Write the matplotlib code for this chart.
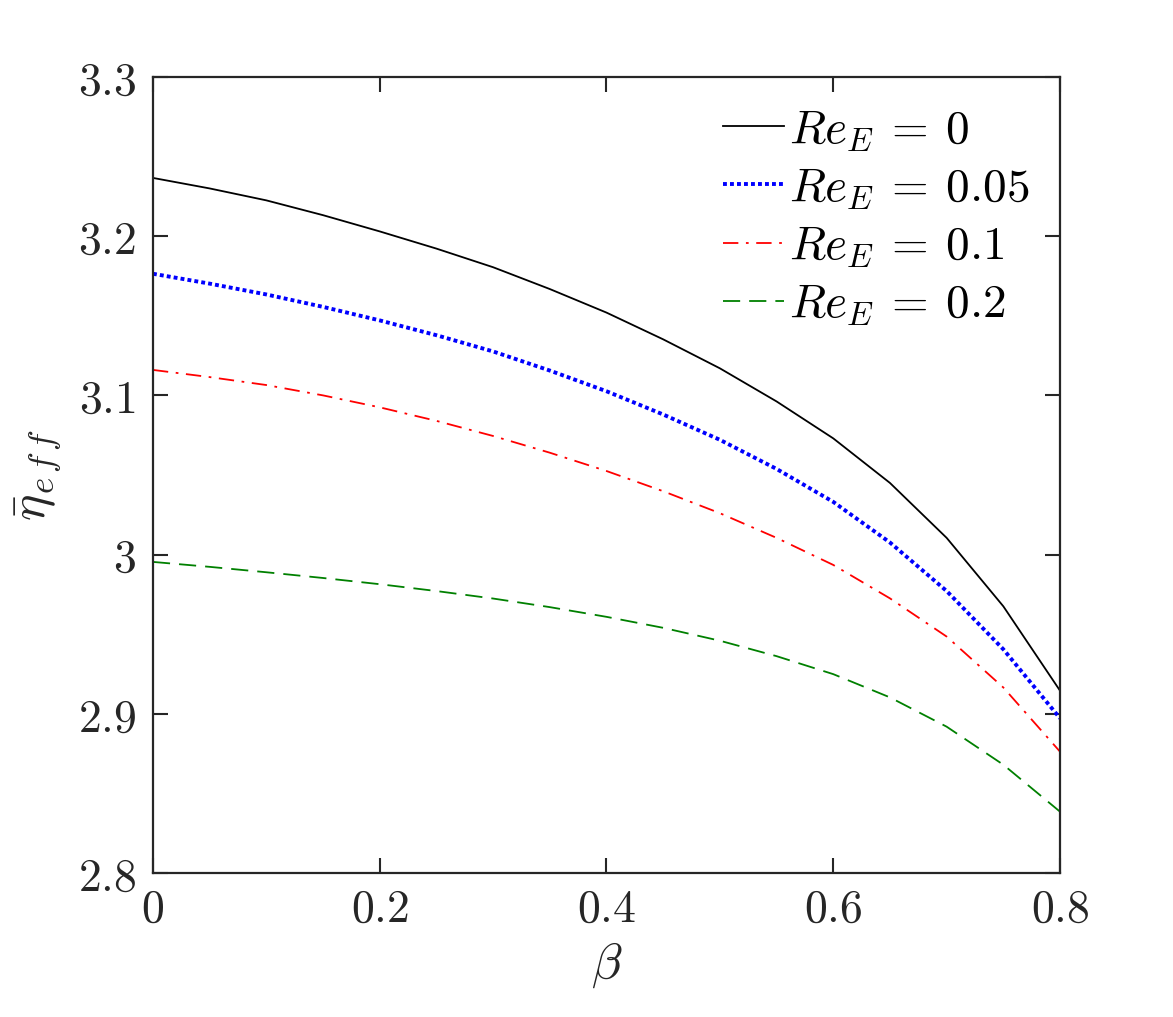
import matplotlib
matplotlib.use("Agg")
import matplotlib.pyplot as plt

plt.rcParams["mathtext.fontset"] = "cm"
plt.rcParams["font.family"] = ["DejaVu Serif"]

# beta values
beta = [0.0, 0.05, 0.1, 0.15, 0.2, 0.25, 0.3, 0.35, 0.4,
        0.45, 0.5, 0.55, 0.6, 0.65, 0.7, 0.75, 0.8]

# effective viscosity for each Re_E
eta_re0 = [3.2366, 3.2300, 3.2225, 3.2132, 3.2030, 3.1922, 3.1805, 3.1668, 3.1520,
           3.1352, 3.1170, 3.0962, 3.0730, 3.0450, 3.0105, 2.9675, 2.9145]
eta_re005 = [3.1764, 3.1702, 3.1634, 3.1556, 3.1471, 3.1378, 3.1276, 3.1156, 3.1026,
             3.0880, 3.0721, 3.0538, 3.0331, 3.0076, 2.9771, 2.9405, 2.8972]
eta_re01 = [3.1160, 3.1115, 3.1065, 3.1000, 3.0925, 3.0840, 3.0745, 3.0640, 3.0525,
            3.0398, 3.0260, 3.0105, 2.9935, 2.9725, 2.9485, 2.9165, 2.8762]
eta_re02 = [2.9954, 2.9923, 2.9889, 2.9853, 2.9814, 2.9771, 2.9724, 2.9670, 2.9609,
            2.9540, 2.9459, 2.9362, 2.9249, 2.9103, 2.8919, 2.8680, 2.8385]

labels = [r"$Re_E\:=\:0$", r"$Re_E\:=\:0.05$", r"$Re_E\:=\:0.1$", r"$Re_E\:=\:0.2$"]

xticks = [0, 0.2, 0.4, 0.6, 0.8]
yticks = [2.8, 2.9, 3.0, 3.1, 3.2, 3.3]
xtick_labels = ["0", "0.2", "0.4", "0.6", "0.8"]
ytick_labels = ["2.8", "2.9", "3", "3.1", "3.2", "3.3"]

fig = plt.figure(figsize=(11.73, 10.17), dpi=100)
ax = fig.add_axes([0.1304, 0.1416, 0.7733, 0.7827])

ax.plot(beta, eta_re0, color="#000000", lw=1.3, label=labels[0])
ax.plot(beta, eta_re005, color="#0000FF", lw=2.8, linestyle=(0, (1.0, 0.8)), label=labels[1])
ax.plot(beta, eta_re01, color="#FF0000", lw=1.3, linestyle=(0, (8.5, 4.2, 1.5, 4.2)), label=labels[2])
ax.plot(beta, eta_re02, color="#008000", lw=1.3, linestyle=(0, (9.5, 5.0)), label=labels[3])

ax.set_xlim(0, 0.8)
ax.set_ylim(2.8, 3.3)
ax.set_xticks(xticks)
ax.set_yticks(yticks)
ax.set_xticklabels(["$" + t + "$" for t in xtick_labels])
ax.set_yticklabels(["$" + t + "$" for t in ytick_labels])

ax.tick_params(direction="in", length=11, width=1.5, colors="#262626",
               labelsize=33, top=True, right=True)
ax.tick_params(axis="y", pad=12)
ax.tick_params(axis="x", pad=10)
for s in ax.spines.values():
    s.set_linewidth(1.6)
    s.set_color("#262626")

ax.set_xlabel(r"$\beta$", fontsize=36, color="#262626", labelpad=6)
ax.set_ylabel(r"$\bar{\eta}_{e\,f\,f}$", fontsize=36, color="#262626", labelpad=11)

leg = ax.legend(loc="upper right", frameon=False, fontsize=34,
                handlelength=1.3, handletextpad=0.1, labelspacing=0.27,
                borderaxespad=0.25, bbox_to_anchor=(1.0, 1.0))

fig.savefig("out.png", dpi=100)
